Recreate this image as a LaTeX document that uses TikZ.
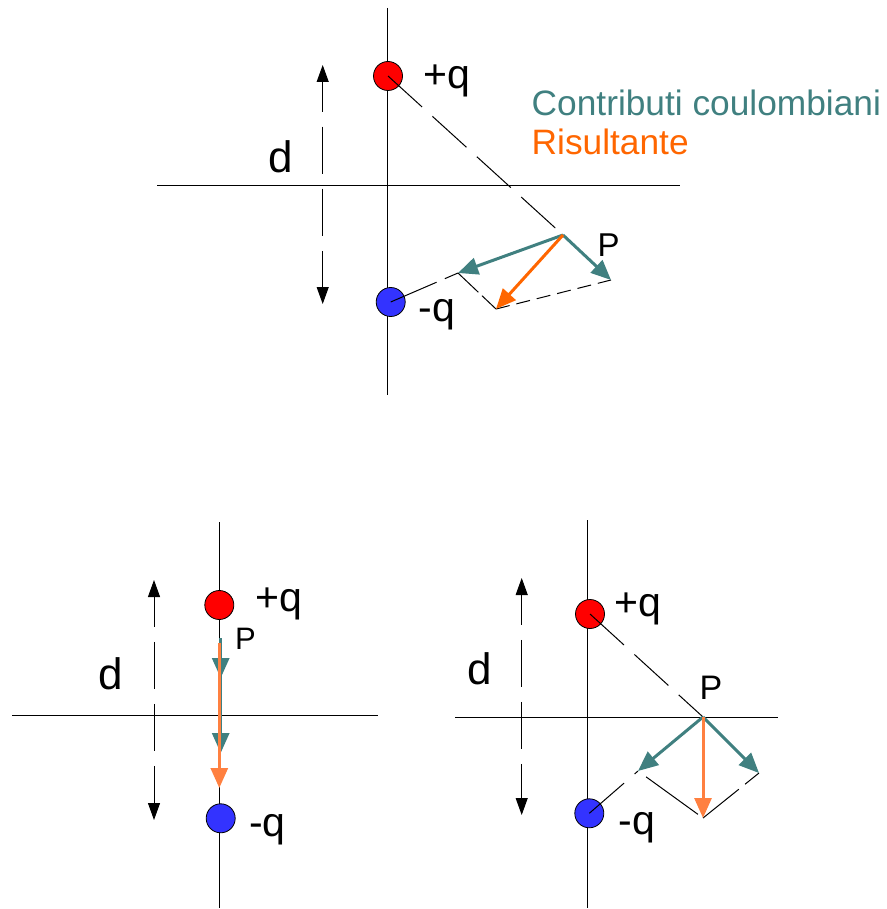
\documentclass[tikz,border=0pt]{standalone}
\usepackage{fontspec}
\setmainfont{Liberation Sans}
\usetikzlibrary{arrows.meta}
\definecolor{tealc}{RGB}{64,128,128}
\definecolor{orangeA}{RGB}{255,102,0}
\definecolor{orangeB}{RGB}{255,128,64}
\definecolor{qred}{RGB}{255,0,0}
\definecolor{qblue}{RGB}{51,51,255}
\begin{document}
\begin{tikzpicture}[x=1pt,y=-1pt,
  axisline/.style={line width=1pt,black},
  charge/.style={circle,draw=black,line width=0.8pt,minimum size=29pt,inner sep=0pt},
  poscharge/.style={charge,fill=qred},
  negcharge/.style={charge,fill=qblue},
  dline/.style={line width=1pt,dash pattern=on 46pt off 14pt},
  darrow/.style={line width=1pt,{Triangle[length=17pt,width=12pt]}-{Triangle[length=17pt,width=12pt]},dash pattern=on 47pt off 15pt,dash phase=17pt},
  vec/.style={line width=3pt,-{Triangle[length=20pt,width=17pt]}},
  lbl/.style={anchor=base west,inner sep=0pt,font=\fontsize{41pt}{48pt}\selectfont},
  dlbl/.style={anchor=base west,inner sep=0pt,font=\fontsize{44pt}{52pt}\selectfont},
  plbl/.style={anchor=base west,inner sep=0pt,font=\fontsize{33pt}{40pt}\selectfont},
  leg/.style={anchor=base west,inner sep=0pt,font=\fontsize{35.3pt}{40pt}\selectfont},
]
\useasboundingbox (0,0) rectangle (886,909);

% ================= TOP DIAGRAM =================
\coordinate (tvT) at (387,8);
\coordinate (tvB) at (387,395);
\coordinate (thL) at (157,186);
\coordinate (thR) at (680,186);
\draw[axisline] (tvT) -- (tvB);
\draw[axisline] (thL) -- (thR);
\coordinate (tdT) at (322.7,65);
\coordinate (tdB) at (322.7,304);
\draw[darrow] (tdT) -- (tdB);
\node[poscharge] (tp) at (388,76) {};
\node[negcharge] (tn) at (390.7,302) {};
\coordinate (tP) at (563,235);
\coordinate (tA) at (458,273);
\coordinate (tB) at (611,280);
\coordinate (tR) at (496,309);
\draw[dline] (tp.center) -- (tP);
\draw[line width=1pt,dash pattern=on 50pt off 9pt] (tn.center) -- (tA);
\draw[line width=1pt,dash pattern=on 28pt off 5pt] (tA) -- (tR);
\draw[line width=1pt,dash pattern=on 14pt off 7pt] (tR) -- (tB);
\draw[vec,tealc] (tP) -- (tA);
\draw[vec,tealc] (tP) -- (tB);
\draw[vec,orangeA] (tP) -- (tR);
\node[lbl] (tpl) at (423,89) {+q};
\node[lbl] (tnl) at (418.5,321) {-q};
\node[dlbl] (tdl) at (268,173) {d};
\node[plbl] (tPl) at (597.5,256) {P};
\node[leg,text=tealc] (leg1) at (531.5,116) {Contributi coulombiani};
\node[leg,text=orangeA] (leg2) at (531.5,155) {Risultante};

% ================= BOTTOM LEFT =================
\coordinate (lvT) at (219,522);
\coordinate (lvB) at (219,908);
\coordinate (lhL) at (12,715);
\coordinate (lhR) at (378,715);
\draw[axisline] (lvT) -- (lvB);
\draw[axisline] (lhL) -- (lhR);
\coordinate (ldT) at (154,580);
\coordinate (ldB) at (154,820);
\draw[darrow] (ldT) -- (ldB);
\node[poscharge] (lp) at (219.3,605) {};
\node[negcharge] (ln) at (220.7,818.3) {};
\coordinate (lP) at (220.7,638);
\coordinate (lA) at (220.7,678);
\coordinate (lB) at (220.7,753);
\coordinate (lO) at (219.3,643);
\coordinate (lR) at (219.3,788);
\draw[vec,tealc] (lP) -- (lB);
\draw[vec,tealc] (lP) -- (lA);
\draw[vec,orangeB] (lO) -- (lR);
\node[lbl] (lpl) at (255,611) {+q};
\node[lbl] (lnl) at (249,836) {-q};
\node[dlbl] (ldl) at (98,689) {d};
\node[plbl,font=\fontsize{31pt}{38pt}\selectfont] (lPl) at (235,649) {P};

% ================= BOTTOM RIGHT =================
\coordinate (rvT) at (587.7,520);
\coordinate (rvB) at (587.7,908);
\coordinate (rhL) at (455,717);
\coordinate (rhR) at (778,717);
\draw[axisline] (rvT) -- (rvB);
\draw[axisline] (rhL) -- (rhR);
\coordinate (rdT) at (521.7,578);
\coordinate (rdB) at (521.7,815);
\draw[darrow] (rdT) -- (rdB);
\node[poscharge] (rp) at (590,614) {};
\node[negcharge] (rn) at (589.3,813.3) {};
\coordinate (rP) at (703,717);
\coordinate (rA) at (638,771);
\coordinate (rB) at (759,773);
\coordinate (rR) at (703,818);
\draw[dline] (rp.center) -- (rP);
\draw[dline] (rn.center) -- (rA);
\draw[line width=1pt,dash pattern=on 64pt off 10pt,dash phase=64pt] (rA) -- (rR);
\draw[line width=1pt,dash pattern=on 46pt off 8pt] (rR) -- (rB);
\draw[vec,tealc] (rP) -- (rA);
\draw[vec,tealc] (rP) -- (rB);
\draw[vec,orangeB] (rP) -- (rR);
\node[lbl] (rpl) at (614,616.5) {+q};
\node[lbl] (rnl) at (618.5,834) {-q};
\node[dlbl] (rdl) at (467.5,684) {d};
\node[plbl,font=\fontsize{34pt}{40pt}\selectfont] (rPl) at (699.5,699) {P};
\end{tikzpicture}
\end{document}
